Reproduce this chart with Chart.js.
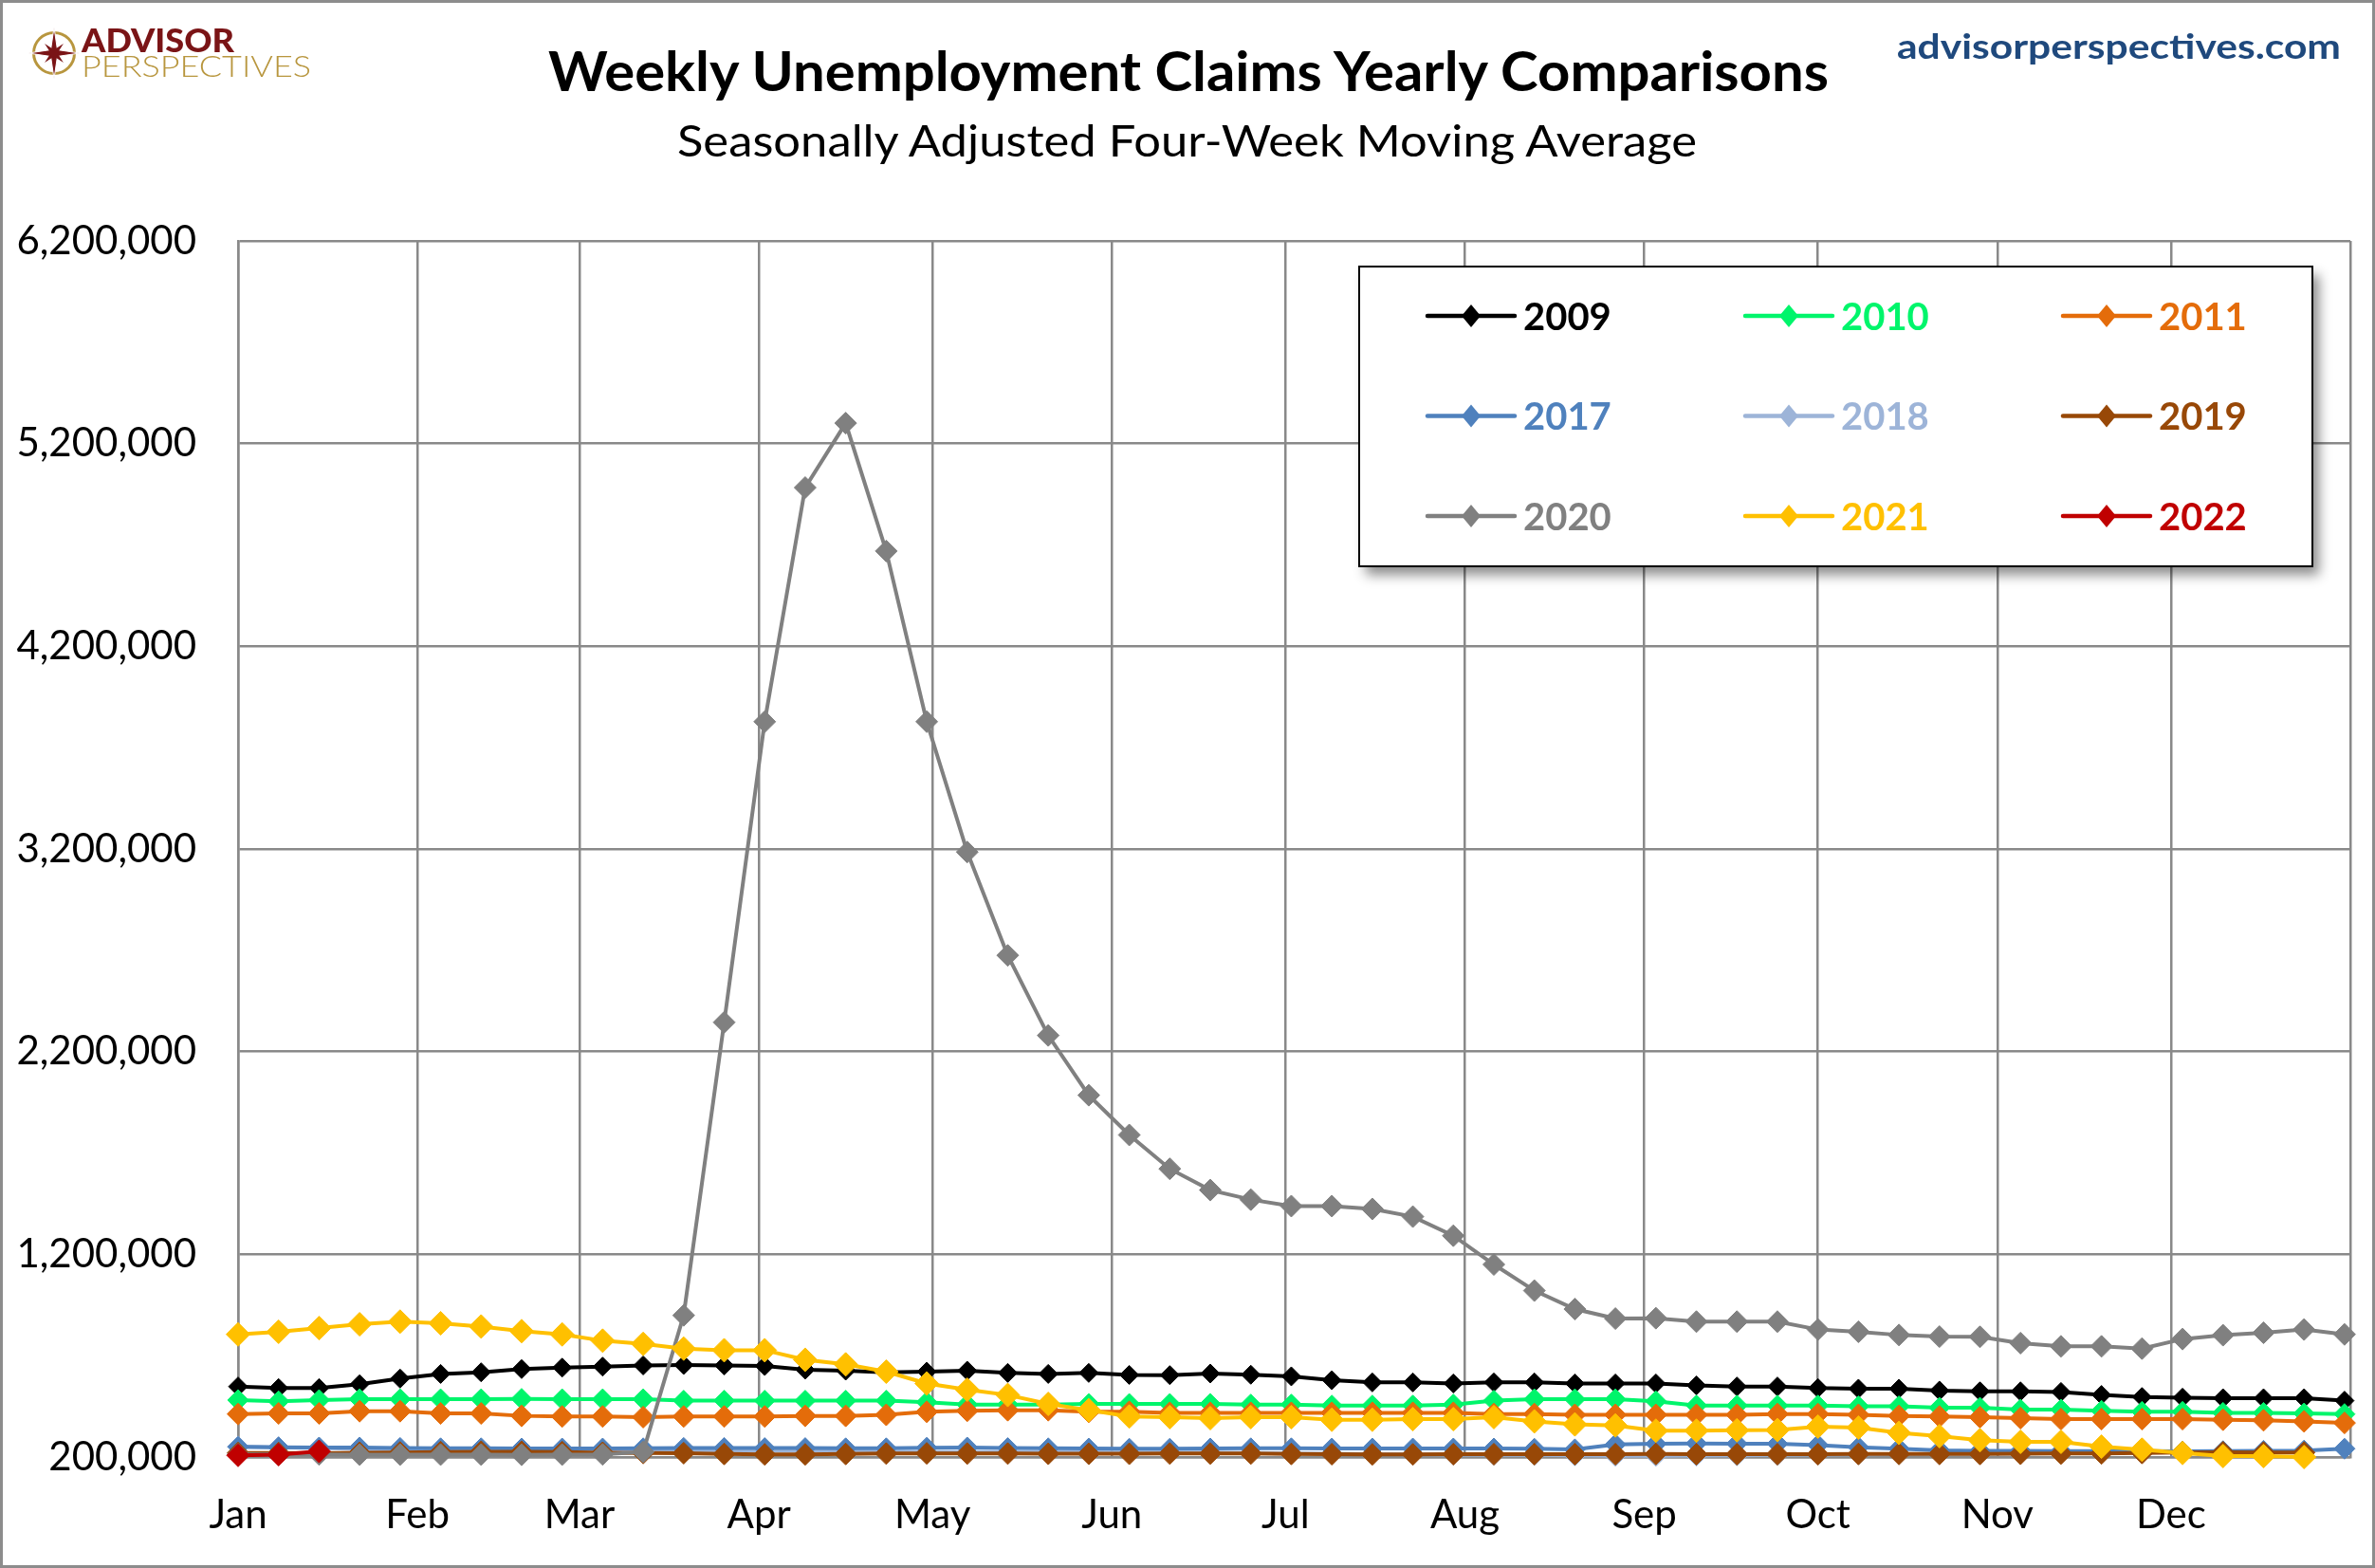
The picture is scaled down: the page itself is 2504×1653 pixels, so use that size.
<!DOCTYPE html>
<html>
<head>
<meta charset="utf-8">
<title>Weekly Unemployment Claims Yearly Comparisons</title>
<script src="https://cdn.jsdelivr.net/npm/chart.js@4.4.1/dist/chart.umd.min.js"></script>
<style>
  html, body { margin: 0; padding: 0; background: #fff; }
  #wrap { position: relative; width: 2504px; height: 1653px; overflow: hidden; font-family: Lato, "Open Sans", sans-serif; }
  #frame { position: absolute; left: 0; top: 0; width: 2504px; height: 1653px; box-sizing: border-box; border: 3px solid #8c8c8c; pointer-events: none; }
  .txt { position: absolute; white-space: nowrap; line-height: 1; transform-origin: 0 0; }
  #chart { position: absolute; left: 0; top: 0; }
</style>
</head>
<body>
<div id="wrap">
  <canvas id="chart" width="2504" height="1653"></canvas>

  <svg style="position:absolute;left:30px;top:29px" width="54" height="54" viewBox="0 0 54 54">
    <circle cx="27" cy="27" r="21.5" fill="none" stroke="#B8963E" stroke-width="3"/>
    <path d="M27,0 L30.5,23.5 L54,27 L30.5,30.5 L27,54 L23.5,30.5 L0,27 L23.5,23.5 Z" fill="#7A1416" stroke="#fff" stroke-width="1"/>
    <path d="M27,13 L29.5,24.5 L41,27 L29.5,29.5 L27,41 L24.5,29.5 L13,27 L24.5,24.5 Z" fill="#7A1416" transform="rotate(45 27 27)"/>
  </svg>
  <div class="txt fit" data-w="161" style="left:86px;top:25px;font-size:34px;font-weight:900;color:#7A1416;">ADVISOR</div>
  <div class="txt fit" data-w="242" style="left:86px;top:54px;font-size:31px;font-weight:300;color:#B8963E;">PERSPECTIVES</div>

  <div class="txt fit center" data-w="1350" data-cx="1253" style="top:46px;font-size:57px;font-weight:700;color:#000;">Weekly Unemployment Claims Yearly Comparisons</div>
  <div class="txt fit center" data-w="1075" data-cx="1251" style="top:125px;font-size:46px;font-weight:400;color:#000;">Seasonally Adjusted Four-Week Moving Average</div>
  <div class="txt fit" data-w="468" style="left:2000px;top:30px;font-size:36px;font-weight:700;color:#1F497D;">advisorperspectives.com</div>

  <div id="frame"></div>
</div>

<script>
// Axe des x : jours depuis le 1er janvier, une valeur par semaine
const DAYS_PER_WEEK = 7;
const monthStarts = [0, 31, 59, 90, 120, 151, 181, 212, 243, 273, 304, 334, 365];
const monthLabels = ['Jan', 'Feb', 'Mar', 'Apr', 'May', 'Jun', 'Jul', 'Aug', 'Sep', 'Oct', 'Nov', 'Dec', ''];

const yearLabels = ['2009', '2010', '2011', '2017', '2018', '2019', '2020', '2021', '2022'];

// Moyenne mobile sur 4 semaines, en milliers
const y2009 = [548, 540, 540, 559, 587, 610, 618, 634, 641, 646, 652, 654, 652, 649, 631, 626, 618, 621, 626, 615,
  610, 615, 605, 604, 612, 606, 598, 579, 568, 568, 563, 568, 568, 563, 563, 563, 553, 548, 548, 540,
  537, 537, 528, 524, 524, 521, 506, 496, 493, 490, 490, 490, 478];
const y2010 = [481, 475, 481, 485, 485, 485, 485, 487, 485, 485, 485, 478, 478, 478, 478, 478, 478, 470, 459, 459,
  459, 462, 462, 462, 462, 459, 459, 454, 454, 454, 459, 478, 485, 485, 485, 475, 454, 454, 454, 454,
  450, 450, 443, 443, 434, 434, 428, 423, 423, 418, 418, 415, 412];
const y2011 = [412, 415, 415, 426, 426, 415, 415, 403, 400, 400, 397, 400, 400, 400, 403, 403, 408, 423, 428, 431,
  431, 423, 423, 418, 418, 418, 418, 418, 418, 418, 418, 412, 412, 408, 408, 408, 408, 408, 412, 412,
  408, 403, 400, 397, 392, 387, 387, 387, 387, 384, 381, 376, 368];
const y2017 = [250, 248, 247, 247, 245, 243, 243, 242, 242, 242, 243, 245, 245, 244, 244, 243, 243, 246, 247, 244,
  243, 242, 241, 241, 242, 243, 243, 242, 242, 242, 242, 242, 241, 238, 262, 265, 267, 266, 265, 259,
  248, 241, 233, 231, 231, 229, 229, 229, 228, 229, 231, 232, 241];
const y2018 = [252, 248, 245, 240, 232, 228, 226, 225, 225, 226, 228, 230, 232, 232, 230, 228, 226, 225, 225, 224,
  224, 223, 222, 222, 222, 220, 218, 216, 214, 213, 212, 211, 210, 208, 206, 206, 207, 208, 210, 212,
  213, 214, 215, 216, 218, 220, 222, 223, 224, 224, 224, 224];
const y2019 = [220, 220, 219, 221, 222, 224, 226, 226, 224, 221, 220, 219, 215, 213, 213, 215, 217, 218, 217, 217,
  216, 216, 216, 217, 217, 217, 215, 214, 213, 213, 214, 214, 214, 214, 214, 215, 214, 214, 214, 214,
  215, 215, 215, 215, 216, 217, 218, 220, 222, 223, 222, 222];
const y2020 = [213, 214, 213, 212, 212, 212, 212, 211, 212, 213, 225, 899, 2345, 3828, 4983, 5301, 4670, 3828, 3185, 2675,
  2280, 1985, 1789, 1622, 1517, 1470, 1438, 1438, 1424, 1386, 1292, 1150, 1021, 930, 883, 885, 868, 868, 868, 829,
  818, 802, 794, 793, 762, 746, 746, 735, 782, 801, 813, 829, 805];
const y2021 = [805, 818, 836, 855, 868, 860, 844, 821, 805, 774, 758, 735, 727, 727, 680, 657, 621, 563, 532, 506,
  462, 431, 400, 397, 392, 397, 397, 384, 384, 387, 387, 397, 376, 361, 356, 330, 330, 332, 333, 350,
  345, 319, 303, 283, 275, 275, 251, 236, 220, 205, 205, 200];
const y2022 = [208, 212, 228];

const seriesValues = [y2009, y2010, y2011, y2017, y2018, y2019, y2020, y2021, y2022];
const seriesColors = ['#000000', '#00F56B', '#E46C0A', '#4F81BD', '#9DB4D8', '#984807', '#808080', '#FFC000', '#C00000'];
// ordre de dessin : les séries récentes passent au-dessus (2017 au-dessus de 2018)
const drawOrder = [8, 7, 6, 4, 5, 3, 2, 1, 0];
const markerRadius = [10, 11, 11.5, 11, 11, 11.5, 11.5, 12.5, 12];

function toPoints(vals) {
    return vals.map((v, i) => ({ x: i * DAYS_PER_WEEK, y: v * 1000 }));
}

const datasets = yearLabels.map((label, i) => ({
    label: label,
    data: toPoints(seriesValues[i]),
    borderColor: seriesColors[i],
    backgroundColor: seriesColors[i],
    pointBackgroundColor: seriesColors[i],
    pointBorderColor: seriesColors[i],
    borderWidth: 4,
    pointStyle: 'rectRot',
    pointRadius: markerRadius[i],
    pointBorderWidth: 1,
    tension: 0,
    order: drawOrder[i],
    clip: false
}));

// Légende en grille 3 x 3 dans la zone du graphique
const gridLegend = {
    id: 'gridLegend',
    afterDraw(chart) {
        const ctx = chart.ctx;
        const area = chart.chartArea;
        const left = area.left + 1182;
        const top = area.top + 27;
        const w = 1005, h = 316;

        ctx.save();
        ctx.shadowColor = 'rgba(0,0,0,0.45)';
        ctx.shadowBlur = 12;
        ctx.shadowOffsetX = 7;
        ctx.shadowOffsetY = 9;
        ctx.fillStyle = '#fff';
        ctx.fillRect(left, top, w, h);
        ctx.restore();

        ctx.save();
        ctx.strokeStyle = '#000';
        ctx.lineWidth = 2;
        ctx.strokeRect(left, top, w, h);

        const rowY = [52, 157.5, 263];
        const colX = [72, 407, 742];
        ctx.font = 'bold 40px Lato, "Open Sans", sans-serif';
        ctx.textBaseline = 'middle';
        ctx.textAlign = 'left';
        chart.data.datasets.forEach((ds, i) => {
            const x0 = left + colX[i % 3];
            const y0 = top + rowY[Math.floor(i / 3)];
            ctx.strokeStyle = ds.borderColor;
            ctx.lineWidth = 4.5;
            ctx.lineCap = 'round';
            ctx.beginPath();
            ctx.moveTo(x0, y0);
            ctx.lineTo(x0 + 92, y0);
            ctx.stroke();
            ctx.fillStyle = ds.borderColor;
            ctx.beginPath();
            ctx.moveTo(x0 + 46, y0 - 12);
            ctx.lineTo(x0 + 56, y0);
            ctx.lineTo(x0 + 46, y0 + 12);
            ctx.lineTo(x0 + 36, y0);
            ctx.closePath();
            ctx.fill();
            ctx.fillText(ds.label, x0 + 101, y0 + 2);
        });
        ctx.restore();
    }
};

const gridColor = '#898989';
const tickFont = { family: 'Lato, "Open Sans", sans-serif', size: 42 };

const ctx = document.getElementById('chart').getContext('2d');
const claimsChart = new Chart(ctx, {
    type: 'line',
    data: { datasets: datasets },
    options: {
        responsive: false,
        animation: false,
        events: [],
        layout: { padding: { top: 254, right: 26, left: 0, bottom: 0 } },
        plugins: {
            legend: { display: false },
            tooltip: { enabled: false },
            title: { display: false }
        },
        scales: {
            x: {
                type: 'linear',
                min: 0,
                max: 365,
                afterBuildTicks: (scale) => {
                    scale.ticks = monthStarts.map(v => ({ value: v }));
                },
                afterFit: (scale) => {
                    scale.height = 117;
                    scale.paddingLeft = 0;
                    scale.paddingRight = 0;
                },
                ticks: {
                    autoSkip: false,
                    maxRotation: 0,
                    padding: 36,
                    color: '#000',
                    font: tickFont,
                    callback: (value, index) => monthLabels[index]
                },
                grid: { color: gridColor, lineWidth: 2.5, drawTicks: false },
                border: { color: gridColor, width: 2.5 }
            },
            y: {
                min: 200000,
                max: 6200000,
                afterFit: (scale) => { scale.width = 251; },
                ticks: {
                    stepSize: 1000000,
                    padding: 44,
                    color: '#000',
                    font: tickFont,
                    callback: (value) => value.toLocaleString('en-US')
                },
                grid: { color: gridColor, lineWidth: 2.5, drawTicks: false },
                border: { color: gridColor, width: 2.5 }
            }
        }
    },
    plugins: [gridLegend]
});

// Ajuster la largeur des textes au modèle
function fitTexts() {
    document.querySelectorAll('.fit').forEach(el => {
        el.style.transform = 'none';
        const natural = el.getBoundingClientRect().width;
        const target = parseFloat(el.dataset.w);
        const k = Math.min(1.25, Math.max(0.75, target / natural));
        if (el.classList.contains('center')) {
            el.style.left = (parseFloat(el.dataset.cx) - target / 2) + 'px';
        }
        el.style.transform = 'scaleX(' + k + ')';
    });
}
if (document.fonts && document.fonts.ready) {
    document.fonts.ready.then(fitTexts);
} else {
    fitTexts();
}
</script>
</body>
</html>
